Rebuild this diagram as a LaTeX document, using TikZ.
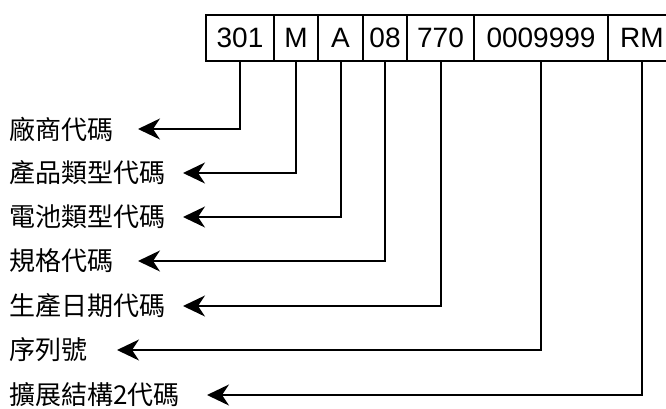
\documentclass[tikz,border=0pt]{standalone}
\usepackage{fontspec}
\setmainfont{Liberation Sans}
\newfontfamily\cjk{Noto Sans CJK TC}
\usepackage{tikz}
\usetikzlibrary{positioning}
\usetikzlibrary{arrows.meta}
\tikzset{codearrow/.style={-{Stealth[length=22pt, width=21pt, inset=7pt]}, line width=2pt}}
\tikzset{codebox/.style={draw, line width=2.4pt, minimum height=46pt, inner sep=0pt, outer sep=0pt, font=\fontsize{28}{30}\selectfont}}
\tikzset{codelabel/.style={anchor=west, inner sep=0pt, font=\cjk\fontsize{26}{30}\selectfont}}

\begin{document}
\begin{tikzpicture}[x=1pt, y=-1pt]
    \useasboundingbox (0, 0) rectangle (666, 408);
    \node[codebox, minimum width=68pt, anchor=north west](maker) at (206, 15){301};
    \node[codebox, minimum width=44pt, right=0pt of maker](product){M};
    \node[codebox, minimum width=45pt, right=0pt of product](cell){A};
    \node[codebox, minimum width=44pt, right=0pt of cell](spec){08};
    \node[codebox, minimum width=67pt, right=0pt of spec](date){770};
    \node[codebox, minimum width=134pt, right=0pt of date](serial){0009999};
    \node[codebox, draw=none, minimum width=68pt, right=0pt of serial](ext){RM};
    \draw[line width=2.4pt](serial.north east) -- ++(80, 0);
    \draw[line width=2.4pt](serial.south east) -- ++(80, 0);
    \node[codelabel](lmaker) at (9, 129){廠商代碼};
    \node[codelabel](lproduct) at (9, 173){產品類型代碼};
    \node[codelabel](lcell) at (9, 217){電池類型代碼};
    \node[codelabel](lspec) at (9, 261){規格代碼};
    \node[codelabel](ldate) at (9, 306){生產日期代碼};
    \node[codelabel](lserial) at (9, 350){序列號};
    \node[codelabel](lext) at (9, 395){擴展結構2代碼};
    \coordinate (tmaker) at (138, 129);
    \coordinate (tproduct) at (183, 173);
    \coordinate (tcell) at (183, 217);
    \coordinate (tspec) at (138, 261);
    \coordinate (tdate) at (183, 306);
    \coordinate (tserial) at (117, 350);
    \coordinate (text) at (207, 395);
    \draw[codearrow](maker.south) |- (tmaker);
    \draw[codearrow](product.south) |- (tproduct);
    \draw[codearrow](cell.south) |- (tcell);
    \draw[codearrow](spec.south) |- (tspec);
    \draw[codearrow](date.south) |- (tdate);
    \draw[codearrow](serial.south) |- (tserial);
    \draw[codearrow](ext.south) |- (text);
\end{tikzpicture}
\end{document}
